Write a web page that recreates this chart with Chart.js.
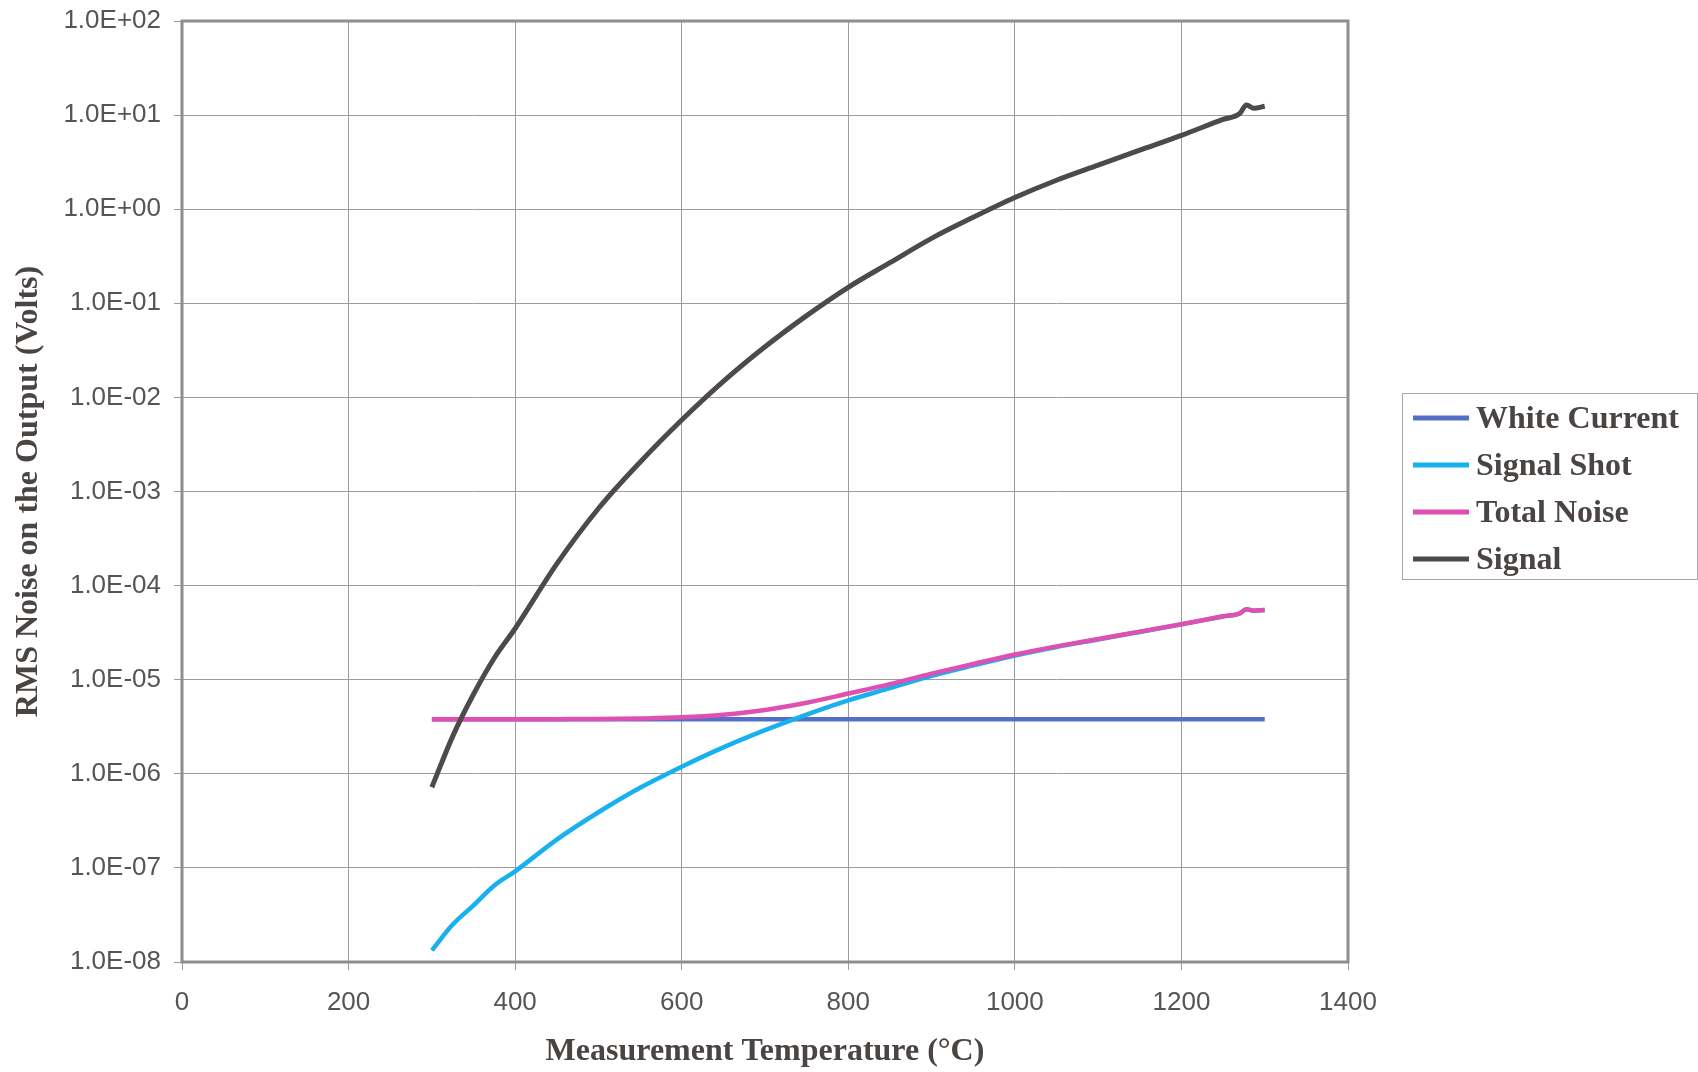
<!DOCTYPE html>
<html>
<head>
<meta charset="utf-8">
<title>RMS Noise vs Measurement Temperature</title>
<script src="https://cdn.jsdelivr.net/npm/chart.js@4.4.0/dist/chart.umd.min.js"></script>
<style>
  html, body { margin: 0; padding: 0; background: #fff; }
  #wrap { width: 1698px; height: 1072px; }
</style>
</head>
<body>
<div id="wrap"><canvas id="noiseChart" width="1698" height="1072"></canvas></div>
<script>
// values (deg C / Volts)
const temps = [300, 325, 350, 375, 400, 450, 500, 550, 600, 650, 700, 750, 800, 850, 900, 950, 1000, 1050, 1100, 1150, 1200, 1250, 1270, 1278, 1287, 1300];
const whiteCurrent = [3.8e-6, 3.8e-6, 3.8e-6, 3.8e-6, 3.8e-6, 3.8e-6, 3.8e-6, 3.8e-6, 3.8e-6, 3.8e-6, 3.8e-6, 3.8e-6, 3.8e-6, 3.8e-6, 3.8e-6, 3.8e-6, 3.8e-6, 3.8e-6, 3.8e-6, 3.8e-6, 3.8e-6, 3.8e-6, 3.8e-6, 3.8e-6, 3.8e-6, 3.8e-6];
const signalShot = [1.33e-8, 2.5e-8, 4.0e-8, 6.5e-8, 9.2e-8, 2.0e-7, 3.9e-7, 7.1e-7, 1.19e-6, 1.91e-6, 2.91e-6, 4.26e-6, 6.03e-6, 8.14e-6, 1.1e-5, 1.42e-5, 1.81e-5, 2.23e-5, 2.68e-5, 3.22e-5, 3.87e-5, 4.7e-5, 5.05e-5, 5.6e-5, 5.4e-5, 5.5e-5];
const totalNoise = [3.8e-6, 3.8e-6, 3.8e-6, 3.8e-6, 3.8e-6, 3.81e-6, 3.82e-6, 3.87e-6, 3.98e-6, 4.25e-6, 4.77e-6, 5.69e-6, 7.13e-6, 8.98e-6, 1.16e-5, 1.47e-5, 1.85e-5, 2.26e-5, 2.71e-5, 3.24e-5, 3.89e-5, 4.72e-5, 5.07e-5, 5.62e-5, 5.42e-5, 5.52e-5];
const signal = [7.2e-7, 2.5e-6, 7.0e-6, 1.7e-5, 3.5e-5, 1.7e-4, 6.6e-4, 2.05e-3, 5.75e-3, 1.48e-2, 3.45e-2, 7.4e-2, 0.148, 0.27, 0.49, 0.82, 1.33, 2.03, 2.94, 4.24, 6.1, 9.0, 10.4, 12.8, 11.8, 12.4];

const seriesNames = ['White Current', 'Signal Shot', 'Total Noise', 'Signal'];
const seriesColors = ['#5470c6', '#18b0ee', '#e04fb2', '#4e4a48'];
const yTicks = [1e-8, 1e-7, 1e-6, 1e-5, 1e-4, 1e-3, 1e-2, 1e-1, 1, 10, 100];
const xTickStep = 200;

const serifFont = '"Liberation Serif", "Times New Roman", serif';
const sansFont = '"Liberation Sans", Arial, sans-serif';
const textColor = '#4a4442';
const gridColor = '#9c9c9c';

function toPoints(values) {
  return temps.map((t, i) => ({ x: t, y: values[i] }));
}

// Excel style "1.0E-05"
function sciLabel(v) {
  const parts = Number(v).toExponential(1).split('e');
  const exp = parseInt(parts[1], 10);
  const sign = exp < 0 ? '-' : '+';
  return parts[0] + 'E' + sign + String(Math.abs(exp)).padStart(2, '0');
}

const seriesValues = [whiteCurrent, signalShot, totalNoise, signal];

// plot frame and boxed legend like the Excel original
const frameAndLegend = {
  id: 'frameAndLegend',
  afterDatasetsDraw(chart) {
    const ctx = chart.ctx;
    const a = chart.chartArea;
    ctx.save();
    ctx.strokeStyle = '#8e8e8e';
    ctx.lineWidth = 3;
    ctx.strokeRect(a.left, a.top, a.right - a.left, a.bottom - a.top);
    ctx.restore();
  },
  afterDraw(chart) {
    const ctx = chart.ctx;
    const boxX = 1402, boxY = 393, boxW = 295, boxH = 186;
    const rowY = [418, 465, 512, 559];
    ctx.save();
    ctx.strokeStyle = '#a8a8a8';
    ctx.lineWidth = 1;
    ctx.strokeRect(boxX + 0.5, boxY + 0.5, boxW, boxH);
    ctx.font = 'bold 32px ' + serifFont;
    ctx.textBaseline = 'middle';
    ctx.textAlign = 'left';
    seriesNames.forEach((name, i) => {
      ctx.strokeStyle = seriesColors[i];
      ctx.lineWidth = 5;
      ctx.beginPath();
      ctx.moveTo(1413, rowY[i]);
      ctx.lineTo(1469, rowY[i]);
      ctx.stroke();
      ctx.fillStyle = textColor;
      ctx.fillText(name, 1476, rowY[i] + 2);
    });
    ctx.restore();
  }
};

const ctx = document.getElementById('noiseChart').getContext('2d');
const noiseChart = new Chart(ctx, {
  type: 'scatter',
  data: {
    datasets: seriesNames.map((name, i) => ({
      label: name,
      data: toPoints(seriesValues[i]),
      showLine: true,
      borderColor: seriesColors[i],
      backgroundColor: seriesColors[i],
      borderWidth: i === 3 ? 5 : 4.5,
      pointRadius: 0,
      cubicInterpolationMode: 'monotone',
      order: seriesNames.length - i
    }))
  },
  options: {
    responsive: false,
    devicePixelRatio: 1,
    animation: false,
    layout: { padding: { left: 0, right: 350, top: 21, bottom: 0 } },
    plugins: {
      legend: { display: false },
      tooltip: { enabled: false }
    },
    scales: {
      x: {
        type: 'linear',
        min: 0,
        max: 1400,
        ticks: {
          stepSize: xTickStep,
          padding: 17,
          color: '#555',
          font: { family: sansFont, size: 26 },
          callback: value => String(value)
        },
        grid: { color: gridColor, lineWidth: 1, tickLength: 8 },
        border: { display: false },
        title: {
          display: true,
          text: 'Measurement Temperature (°C)',
          color: textColor,
          font: { family: serifFont, size: 32, weight: 'bold' },
          padding: { top: 0, bottom: 1 }
        },
        afterFit(scale) { scale.height = 110; }
      },
      y: {
        type: 'logarithmic',
        min: 1e-8,
        max: 100,
        afterBuildTicks(scale) {
          scale.ticks = yTicks.map(v => ({ value: v }));
        },
        ticks: {
          padding: 13,
          color: '#555',
          font: { family: sansFont, size: 26 },
          callback: value => sciLabel(value)
        },
        grid: { color: gridColor, lineWidth: 1, tickLength: 8 },
        border: { display: false },
        title: {
          display: true,
          text: 'RMS Noise on the Output (Volts)',
          color: textColor,
          font: { family: serifFont, size: 32, weight: 'bold' },
          padding: { top: 10, bottom: 0 }
        },
        afterFit(scale) {
          scale.width = 182;
          scale.paddingTop = 0;
          scale.paddingBottom = 0;
        }
      }
    }
  },
  plugins: [frameAndLegend]
});
</script>
</body>
</html>
